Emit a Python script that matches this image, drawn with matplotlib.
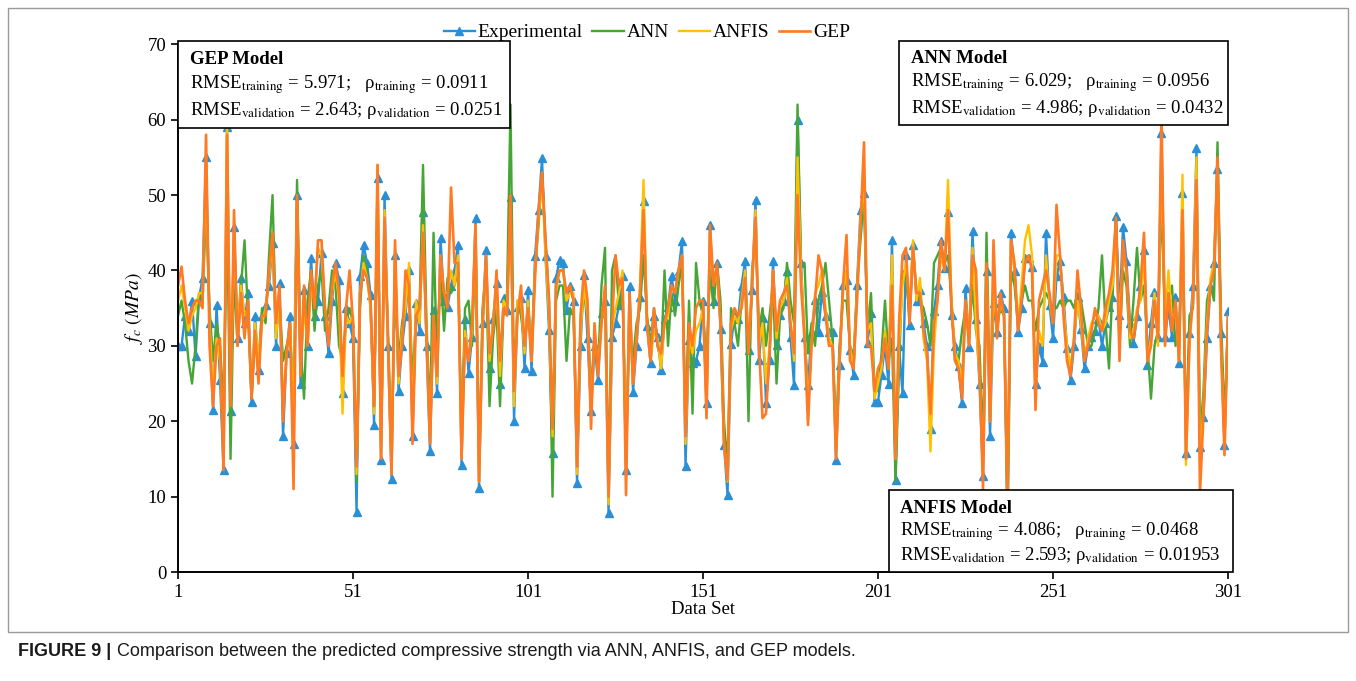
import numpy as np
import matplotlib.pyplot as plt
from matplotlib.patches import Rectangle

plt.rcParams['font.family'] = ['Liberation Serif', 'DejaVu Serif']
plt.rcParams['mathtext.fontset'] = 'stix'

# measured compressive strength (MPa) for the 301 samples
experimental = [
    30, 30, 34, 32, 36, 28.6, 36.3, 39, 55, 33,
    21.5, 35.4, 25.5, 13.5, 59, 21.3, 45.8, 31, 39, 33,
    37, 22.6, 34, 26.8, 34, 35.4, 38, 43.6, 30, 38.3,
    18, 29, 33.9, 17, 50, 25, 37.4, 30, 41.6, 34,
    36, 42.3, 33.9, 29, 36, 41, 38.8, 23.7, 35, 33,
    31, 8, 39.2, 43.4, 41, 36.8, 19.5, 52.3, 14.9, 50,
    30, 12.4, 42, 24, 30, 34, 40, 18, 35.7, 32,
    47.8, 30, 16, 34.8, 23.7, 44.3, 35.9, 35.2, 38, 40,
    43.4, 14.2, 33.5, 26.4, 31.2, 47, 11.1, 33, 42.7, 27,
    33.5, 38.3, 25, 36.3, 34.8, 49.8, 20, 35.2, 36.3, 27,
    37.4, 26.6, 41.9, 48, 54.9, 41.9, 32.1, 15.8, 39, 41.4,
    41, 34.8, 38, 36, 11.8, 30, 39.4, 31, 21.3, 30,
    25.5, 34.3, 35.9, 7.8, 31.2, 33, 35.4, 39.2, 13.5, 37.9,
    23.9, 30, 36.5, 49.2, 32.6, 27.7, 34, 31.2, 26.8, 33.5,
    35.2, 39.2, 36, 39.9, 43.9, 14, 30.8, 27.7, 28, 30,
    36, 22.4, 46, 36, 41, 32.3, 16.9, 10.2, 30.3, 33.9,
    33.5, 38, 41.2, 29.5, 37.4, 49.4, 28.1, 33.7, 22.4, 28.1,
    41.2, 30.1, 34.1, 36, 39.9, 31.2, 24.8, 60, 41, 31.2,
    24.8, 31.9, 36.1, 31.9, 37.2, 34, 31.9, 31.9, 14.9, 27.5,
    38.1, 38.8, 29.5, 26.2, 38.1, 48, 50.3, 30.4, 34.3, 22.6,
    22.6, 26.2, 30, 25, 44, 12.2, 30, 23.7, 42, 32.8,
    43.4, 36, 37.4, 33, 30, 19, 34.6, 38.1, 43.9, 40.3,
    47.8, 34.1, 30, 27.3, 22.4, 37.7, 29.9, 45.2, 33.5, 25,
    12.7, 39.9, 18, 35.7, 31.9, 37, 35, 7.6, 45, 39.9,
    31.9, 35, 41.6, 41.6, 40.5, 25, 30, 27.9, 45, 35.4,
    31, 39.2, 41.2, 36.5, 29.7, 25.5, 30, 36.5, 32.3, 27,
    30, 31.2, 32, 33.5, 30, 33, 35.2, 36.5, 47.2, 34.1,
    45.8, 41.2, 33, 30.4, 33.9, 37.9, 42.7, 27.5, 33, 37.2,
    31.2, 58.2, 31.2, 35, 31.2, 36.5, 27.7, 50.3, 15.8, 31.7,
    38, 56.2, 16.6, 20.6, 31, 37.9, 41, 53.4, 31.7, 16.9, 34.6,
]

ann = [
    34, 36, 33, 28, 25, 30, 37, 36, 48, 35,
    28, 33, 30, 22, 49, 15, 40, 30, 38, 44,
    34, 23, 31, 28, 35, 33, 42, 50, 32, 36,
    28, 30, 32, 22, 52, 30, 23, 36, 40, 32,
    38, 40, 32, 35, 40, 38, 30, 28, 33, 35,
    33, 12, 35, 42, 40, 35, 22, 49, 17, 45,
    32, 16, 38, 28, 33, 36, 38, 25, 34, 35,
    54, 33, 20, 45, 28, 40, 32, 39, 37, 38,
    40, 18, 35, 36, 30, 44, 14, 35, 40, 22,
    31, 35, 22, 35, 37, 62, 24, 36, 34, 30,
    35, 30, 40, 46, 53, 44, 36, 10, 36, 38,
    38, 28, 35, 34, 16, 33, 37, 34, 24, 31,
    27, 38, 43, 10, 40, 42, 35, 37, 18, 32,
    28, 33, 35, 42, 34, 30, 35, 30, 28, 40,
    30, 37, 34, 38, 41, 20, 36, 21, 41, 36,
    34, 28, 40, 35, 41, 36, 20, 14, 35, 33,
    30, 36, 40, 20, 40, 45, 32, 35, 30, 34,
    38, 25, 34, 35, 41, 36, 33, 62, 41, 41,
    29, 33, 30, 36, 38, 41, 36, 31, 18, 30,
    36, 36, 30, 28, 38, 44, 50, 32, 37, 24,
    24, 29, 36, 28, 31, 12, 27, 40, 39, 34,
    43, 37, 36, 35, 33, 30, 41, 42, 43, 41,
    42, 36, 28, 28, 32, 35, 31, 38, 32, 30,
    16, 45, 23, 36, 33, 35, 34, 5, 40, 38,
    33, 36, 38, 36, 36, 32, 35, 36, 37, 36,
    35, 35, 36, 35, 36, 36, 35, 37, 36, 33,
    30, 30, 32, 35, 42, 33, 27, 38, 47, 30,
    40, 38, 30, 36, 43, 36, 38, 30, 23, 30,
    32, 50, 33, 36, 38, 30, 32, 45, 18, 34,
    35, 52, 18, 24, 36, 38, 36, 57, 34, 20, 33,
]

anfis = [
    36, 38, 35, 32, 34, 35, 37, 37, 52, 33,
    24, 31, 28, 16, 61, 23, 44, 32, 38, 34,
    35, 24, 33, 28, 33, 35, 39, 44, 31, 37,
    22, 29, 33, 20, 49, 28, 35, 30, 38, 36,
    43, 42, 35, 31, 37, 40, 36, 21, 34, 33,
    34, 13, 37, 41, 39, 35, 21, 54, 15, 48,
    30, 13, 43, 25, 32, 35, 41, 19, 36, 33,
    46, 31, 18, 34, 25, 42, 37, 37, 40, 38,
    42, 15, 32, 28, 32, 46, 12, 33, 41, 28,
    33, 38, 26, 36, 35, 48, 22, 36, 36, 29,
    36, 28, 40, 47, 52, 42, 34, 18, 37, 40,
    40, 36, 37, 37, 13, 32, 38, 34, 21, 32,
    27, 33, 37, 9, 32, 35, 37, 40, 14, 36,
    25, 31, 38, 52, 33, 28, 32, 31, 27, 33,
    34, 38, 37, 40, 42, 17, 31, 29, 32, 33,
    35, 22, 45, 38, 40, 33, 17, 12, 32, 34,
    33, 36, 40, 30, 38, 48, 30, 33, 25, 30,
    40, 31, 35, 36, 39, 33, 28, 55, 40, 32,
    22, 30, 37, 38, 40, 35, 31, 30, 16, 28,
    37, 40, 30, 27, 37, 47, 52, 32, 33, 23,
    25, 27, 32, 27, 42, 15, 30, 38, 41, 35,
    44, 36, 39, 31, 28, 16, 30, 36, 42, 40,
    52, 36, 29, 28, 25, 36, 31, 43, 33, 26,
    14, 40, 20, 38, 32, 36, 34, 10, 44, 40,
    33, 38, 44, 46, 42, 25, 32, 30, 42, 36,
    33, 42, 42, 35, 30, 27, 31, 36, 33, 28,
    31, 33, 34, 34, 32, 33, 36, 38, 44, 33,
    42, 40, 31, 32, 35, 36, 42, 28, 31, 37,
    30, 55, 33, 40, 33, 35, 28, 52.7, 14.2, 30,
    37, 55, 14, 22, 33, 39, 41, 54, 30, 17, 33,
]

gep = [
    38, 40.5, 36, 33, 35, 36, 36, 35, 58, 30,
    22, 30, 31, 13.5, 58, 22, 48, 30, 37, 31,
    36, 23, 32, 25, 34, 34, 40, 45, 33, 38,
    20, 29, 33, 11, 50, 26, 38, 30, 40, 35,
    44, 44, 35, 30, 38, 41, 37, 26, 35, 40,
    33, 14, 37, 40, 39, 36, 22, 54, 15, 47,
    30, 13, 44, 26, 30, 40, 38, 17, 34, 35,
    45, 31, 17, 34, 26, 42, 37, 35, 51, 41,
    41, 15, 31, 28, 33, 46, 12, 32, 42, 29,
    32, 40, 28, 35, 34, 50, 24, 34, 38, 30,
    35, 28, 39, 48, 53, 44, 36, 19, 38, 40,
    40, 37, 38, 36, 14, 34, 40, 36, 19, 33,
    26, 33, 38, 10, 33, 42, 38, 39, 10.2, 37,
    25, 31, 37, 48, 33, 28, 35, 30, 29, 33,
    35, 38, 37, 40, 42, 18, 33, 30, 35, 36,
    36, 20.4, 46, 38, 41, 33, 17, 12.2, 33, 35,
    34, 35, 39, 29, 38, 47, 30, 20.4, 21, 29,
    40, 32, 36, 37, 38, 33, 29, 50, 38, 31,
    19.5, 30, 36, 42, 40, 34, 30, 30, 15, 28,
    38, 44.7, 28, 27, 36, 46, 57, 30, 30, 24,
    27, 28, 31, 27, 38, 15, 33, 42, 43, 33,
    43, 37, 37, 32, 29, 21, 33, 36, 44, 40,
    48, 35, 28, 27, 23, 36, 30, 42, 40, 27,
    11, 41, 20, 44, 31, 37, 34, 10, 44, 41,
    32, 36, 41, 42, 40, 21.5, 36, 38, 40, 37,
    33, 48.7, 42, 34, 28, 26, 31, 40, 35, 28,
    30, 32, 35, 33, 32, 35, 37, 40, 47, 28,
    44, 40, 32, 31, 34, 38, 45, 28, 30, 36,
    31, 60.9, 30, 37, 32, 36, 28, 48, 15, 31,
    36, 52, 10.4, 21, 32, 38, 40, 55, 30, 15.5, 34,
]

series_names = ['Experimental', 'ANN', 'ANFIS', 'GEP']
series_colors = ['#2B8FD6', '#45A535', '#FFC000', '#FF7A22']

x = np.arange(1, len(experimental) + 1)

fig = plt.figure(figsize=(13.56, 6.81), dpi=100)
ax = fig.add_axes([0.1313, 0.160, 0.7743, 0.775])

ax.plot(x, experimental, color=series_colors[0], lw=1.7, marker='^',
        markersize=5.5, label=series_names[0])
ax.plot(x, ann, color=series_colors[1], lw=1.7, label=series_names[1])
ax.plot(x, anfis, color=series_colors[2], lw=1.7, label=series_names[2])
ax.plot(x, gep, color=series_colors[3], lw=1.9, label=series_names[3])

ax.set_xlim(1, 301)
ax.set_ylim(0, 70)
ax.set_xticks([1, 51, 101, 151, 201, 251, 301])
ax.set_yticks(range(0, 71, 10))
ax.tick_params(labelsize=13.5, length=5, width=1.2, direction='out')
for side in ['top', 'right']:
    ax.spines[side].set_visible(False)
for side in ['left', 'bottom']:
    ax.spines[side].set_linewidth(1.4)
ax.set_xlabel('Data Set', fontsize=13.5, labelpad=0)
ax.set_ylabel(r'$f_c\ (MPa)$', fontsize=14, labelpad=2)

fig.legend(loc='center', bbox_to_anchor=(0.477, 0.952), ncol=4, frameon=False,
           fontsize=14, handlelength=1.6, handletextpad=0.15, columnspacing=0.5)

# model statistics boxes
boxes = [
    ((0.0, 0.841), 0.316, 0.165, 'GEP Model',
     'RMSE$_{\\mathrm{training}}$ = 5.971;   ρ$_{\\mathrm{training}}$ = 0.0911',
     'RMSE$_{\\mathrm{validation}}$ = 2.643; ρ$_{\\mathrm{validation}}$ = 0.0251'),
    ((0.687, 0.847), 0.313, 0.160, 'ANN Model',
     'RMSE$_{\\mathrm{training}}$ = 6.029;   ρ$_{\\mathrm{training}}$ = 0.0956',
     'RMSE$_{\\mathrm{validation}}$ = 4.986; ρ$_{\\mathrm{validation}}$ = 0.0432'),
    ((0.677, 0.0), 0.328, 0.155, 'ANFIS Model',
     'RMSE$_{\\mathrm{training}}$ = 4.086;   ρ$_{\\mathrm{training}}$ = 0.0468',
     'RMSE$_{\\mathrm{validation}}$ = 2.593; ρ$_{\\mathrm{validation}}$ = 0.01953'),
]
for (bx, by), bw, bh, title, line1, line2 in boxes:
    ax.add_patch(Rectangle((bx, by), bw, bh, transform=ax.transAxes,
                           facecolor='white', edgecolor='black', lw=1.2,
                           zorder=5, clip_on=False))
    tx = bx + 0.011
    ax.text(tx, by + bh - 0.018, title, transform=ax.transAxes, fontsize=13.5,
            fontweight='bold', va='top', zorder=6)
    ax.text(tx, by + bh * 0.50, line1, transform=ax.transAxes, fontsize=13.5,
            va='center', zorder=6)
    ax.text(tx, by + bh * 0.20, line2, transform=ax.transAxes, fontsize=13.5,
            va='center', zorder=6)

# frame around the chart panel
fig.add_artist(Rectangle((0.006, 0.072), 0.988, 0.916, transform=fig.transFigure,
                         facecolor='none', edgecolor='#9a9a9a', lw=1.0))

cap = fig.text(0.0135, 0.036, 'FIGURE 9 |', fontsize=13, fontweight='bold',
               family='Liberation Sans', va='baseline', color='#1a1a1a')
ax.annotate(' Comparison between the predicted compressive strength via ANN, ANFIS, and GEP models.',
            xy=(1, 0), xycoords=cap, va='bottom', fontsize=13,
            family='Liberation Sans', color='#1a1a1a', annotation_clip=False)

fig.savefig('out.png', dpi=100)
